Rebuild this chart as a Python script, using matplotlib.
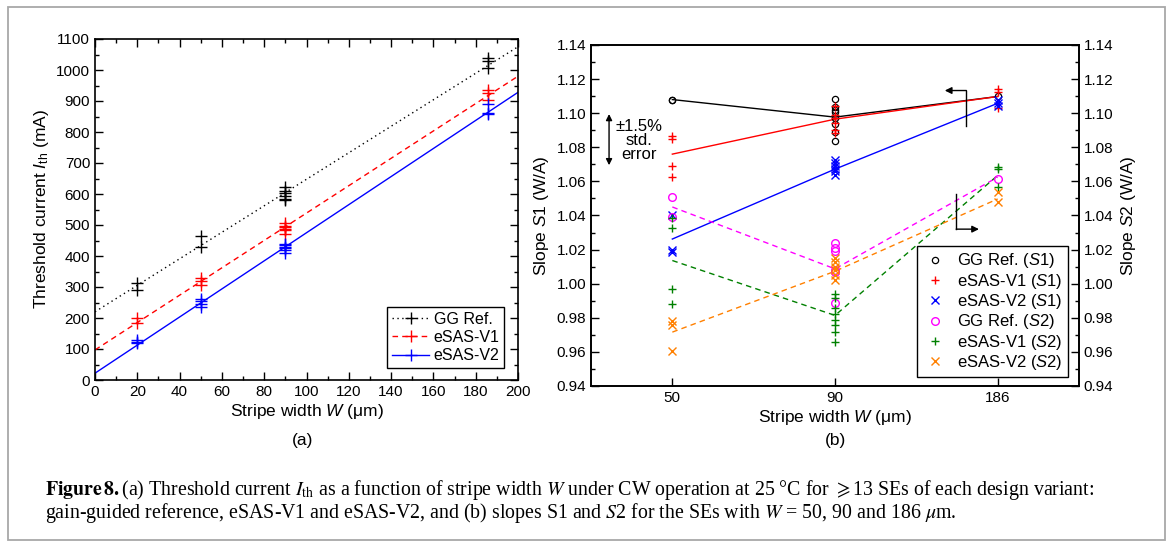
import matplotlib
matplotlib.use("Agg")
import matplotlib.pyplot as plt
import numpy as np
from matplotlib.lines import Line2D
from matplotlib.patches import Rectangle
from matplotlib.ticker import MultipleLocator, FormatStrFormatter

plt.rcParams['font.family'] = ['Liberation Sans', 'DejaVu Sans']
plt.rcParams['mathtext.fontset'] = 'custom'
plt.rcParams['mathtext.rm'] = 'Liberation Sans'
plt.rcParams['mathtext.it'] = 'Liberation Sans:italic'
plt.rcParams['mathtext.bf'] = 'Liberation Sans:bold'

# ---- (a) threshold current vs stripe width
gg_w = [20, 20, 50, 50, 90, 90, 90, 90, 90, 90, 186, 186, 186]
gg_ith = [290, 312, 430, 465, 580, 585, 595, 603, 610, 624, 1005, 1030, 1040]
v1_w = [20, 20, 50, 50, 50, 90, 90, 90, 90, 90, 90, 186, 186, 186]
v1_ith = [183, 199, 306, 320, 330, 470, 483, 487, 492, 498, 505, 903, 925, 935]
v2_w = [20, 20, 20, 50, 50, 50, 50, 90, 90, 90, 90, 90, 90, 186, 186, 186]
v2_ith = [118, 124, 128, 236, 245, 255, 262, 410, 418, 425, 430, 435, 440, 858, 862, 890]

fit_names = ['GG Ref.', 'eSAS-V1', 'eSAS-V2']
fit_icpt = [220, 97, 22]
fit_slope = [4.275, 4.415, 4.53]
fit_w = [0, 200]

# ---- (b) slopes S1 and S2
cats = ['50', '90', '186']

s1_gg_w = [50, 50, 90, 90, 90, 90, 90, 90, 90, 90, 186]
s1_gg = [1.1075, 1.108, 1.1086, 1.1035, 1.102, 1.1006, 1.097, 1.0938, 1.089, 1.0836, 1.110]
s1_gg_mean = [1.108, 1.0977, 1.1098]

s1_v1_w = [50, 50, 50, 50, 90, 90, 90, 90, 90, 90, 186, 186, 186]
s1_v1 = [1.0867, 1.0848, 1.0692, 1.0623, 1.104, 1.099, 1.097, 1.0945, 1.0899, 1.0883, 1.114, 1.1127, 1.103]
s1_v1_mean = [1.076, 1.0965, 1.1098]

s1_v2_w = [50, 50, 50, 90, 90, 90, 90, 90, 90, 186, 186, 186]
s1_v2 = [1.040, 1.020, 1.0184, 1.0727, 1.071, 1.069, 1.0675, 1.066, 1.064, 1.1078, 1.106, 1.1043]
s1_v2_mean = [1.0262, 1.0672, 1.1058]

s2_gg_w = [50, 50, 90, 90, 90, 90, 90, 90, 186]
s2_gg = [1.0508, 1.039, 1.024, 1.021, 1.019, 1.008, 1.0067, 0.9884, 1.0616]
s2_gg_mean = [1.045, 1.0087, 1.0625]

s2_v1_w = [50, 50, 50, 50, 90, 90, 90, 90, 90, 90, 90, 90, 186, 186, 186]
s2_v1 = [1.0385, 1.0325, 0.9966, 0.9882, 0.9939, 0.9917, 0.986, 0.982, 0.9786, 0.976, 0.9716, 0.9658,
         1.0684, 1.0672, 1.0565]
s2_v1_mean = [1.0136, 0.9814, 1.0635]

s2_v2_w = [50, 50, 50, 90, 90, 90, 90, 90, 90, 186, 186]
s2_v2 = [0.9784, 0.976, 0.9605, 1.015, 1.0125, 1.01, 1.008, 1.005, 1.002, 1.0536, 1.0479]
s2_v2_mean = [0.9716, 1.0073, 1.0497]


def pos(ws):
    return [cats.index(str(w)) for w in ws]


fig = plt.figure(figsize=(11.68, 5.46), dpi=100)

# outer frame of the figure box
fig.patches.append(Rectangle((8 / 1168, 6 / 546), 1157 / 1168, 533 / 546, transform=fig.transFigure,
                             fill=False, ec='#a8a8a8', lw=1.3))

# ---------------- panel (a)
ax = fig.add_axes([95 / 1168, 166 / 546, 423 / 1168, 341 / 546])
cols = ['black', 'red', 'blue']
styles = [(0, (1, 2.5)), (0, (4, 3)), '-']
pts = [(gg_w, gg_ith), (v1_w, v1_ith), (v2_w, v2_ith)]
handles = []
for i in range(3):
    fw = np.array(fit_w)
    ax.plot(fw, fit_icpt[i] + fit_slope[i] * fw, color=cols[i], ls=styles[i], lw=1.0)
    ax.plot(pts[i][0], pts[i][1], ls='none', marker='+', ms=9, mew=1.0, color=cols[i])
    handles.append(Line2D([], [], color=cols[i], ls=styles[i], lw=1.0, marker='+', ms=9, mew=1.0))

ax.set_xlim(0, 200)
ax.set_ylim(0, 1100)
ax.xaxis.set_major_locator(MultipleLocator(20))
ax.xaxis.set_minor_locator(MultipleLocator(10))
ax.yaxis.set_major_locator(MultipleLocator(100))
ax.yaxis.set_minor_locator(MultipleLocator(50))
ax.tick_params(which='both', direction='in', top=True, right=True, labelsize=11, width=1.0)
ax.tick_params(which='major', length=6)
ax.tick_params(which='minor', length=3)
for s in ax.spines.values():
    s.set_linewidth(1.2)
ax.set_xlabel('Stripe width $W$ (μm)', fontsize=12.5, labelpad=2)
ax.set_ylabel('Threshold current $I_{\\mathrm{th}}$ (mA)', fontsize=12.5, labelpad=4)
leg = ax.legend(handles, fit_names, loc='lower right', bbox_to_anchor=(0.968, 0.035), fontsize=11.5,
                fancybox=False, edgecolor='black', framealpha=1, handlelength=2.3, handletextpad=0.3,
                labelspacing=0.2, borderpad=0.3, borderaxespad=0)
leg.get_frame().set_linewidth(1.0)

# ---------------- panel (b)
bx = fig.add_axes([591 / 1168, 160 / 546, 488 / 1168, 341 / 546])
bx2 = bx.twinx()
x3 = np.arange(3)

bx.plot(x3, s1_gg_mean, color='black', lw=1.0)
bx.plot(x3, s1_v1_mean, color='red', lw=1.0)
bx.plot(x3, s1_v2_mean, color='blue', lw=1.0)
bx.plot(x3, s2_gg_mean, color='#ff00ff', lw=1.0, ls=(0, (4, 3)))
bx.plot(x3, s2_v1_mean, color='#008000', lw=1.0, ls=(0, (4, 3)))
bx.plot(x3, s2_v2_mean, color='#ff8000', lw=1.0, ls=(0, (4, 3)))

bx.plot(pos(s1_gg_w), s1_gg, ls='none', marker='o', ms=4.5, mfc='none', mec='black', mew=0.9,
        label='GG Ref. ($\\mathit{S1}$)')
bx.plot(pos(s1_v1_w), s1_v1, ls='none', marker='+', ms=6, mew=1.0, color='red',
        label='eSAS-V1 ($\\mathit{S1}$)')
bx.plot(pos(s1_v2_w), s1_v2, ls='none', marker='x', ms=5.5, mew=1.0, color='blue',
        label='eSAS-V2 ($\\mathit{S1}$)')
bx.plot(pos(s2_gg_w), s2_gg, ls='none', marker='o', ms=5.5, mfc='none', mec='#ff00ff', mew=1.0,
        label='GG Ref. ($\\mathit{S2}$)')
bx.plot(pos(s2_v1_w), s2_v1, ls='none', marker='+', ms=6, mew=1.0, color='#008000',
        label='eSAS-V1 ($\\mathit{S2}$)')
bx.plot(pos(s2_v2_w), s2_v2, ls='none', marker='x', ms=6, mew=1.0, color='#ff8000',
        label='eSAS-V2 ($\\mathit{S2}$)')

for a in (bx, bx2):
    a.set_ylim(0.94, 1.14)
    a.yaxis.set_major_locator(MultipleLocator(0.02))
    a.yaxis.set_minor_locator(MultipleLocator(0.01))
    a.yaxis.set_major_formatter(FormatStrFormatter('%.2f'))
    a.tick_params(which='both', direction='in', labelsize=11, width=1.0)
    a.tick_params(which='major', length=6)
    a.tick_params(which='minor', length=3)
    for s in a.spines.values():
        s.set_linewidth(1.2)
bx.set_xlim(-0.5, 2.5)
bx.set_xticks(x3)
bx.set_xticklabels(cats)
bx.set_xlabel('Stripe width $W$ (μm)', fontsize=12.5, labelpad=2)
bx.set_ylabel('Slope $\\mathit{S1}$ (W/A)', fontsize=12.5, labelpad=4)
bx2.set_ylabel('Slope $\\mathit{S2}$ (W/A)', fontsize=12.5, labelpad=4)

leg2 = bx.legend(loc='lower right', bbox_to_anchor=(0.977, 0.026), fontsize=12, fancybox=False,
                 edgecolor='black', framealpha=1, handlelength=1.5, handletextpad=0.6,
                 labelspacing=0.08, borderpad=0.3, borderaxespad=0)
leg2.get_frame().set_linewidth(1.0)

# std. error indicator and axis-pointing brackets
bx.annotate('', xy=(-0.389, 1.0995), xytext=(-0.389, 1.0695),
            arrowprops=dict(arrowstyle='<|-|>', color='black', lw=1.0, mutation_scale=9,
                            shrinkA=0, shrinkB=0))
bx.text(-0.205, 1.0838, '±1.5%\nstd.\nerror', ha='center', va='center', fontsize=12, linespacing=0.92)

bx.plot([1.808, 1.808], [1.0925, 1.1133], color='black', lw=1.0)
bx.annotate('', xy=(1.675, 1.1133), xytext=(1.808, 1.1133),
            arrowprops=dict(arrowstyle='-|>', color='black', lw=1.0, mutation_scale=10,
                            shrinkA=0, shrinkB=0))
bx.plot([1.745, 1.745], [1.032, 1.0524], color='black', lw=1.0)
bx.annotate('', xy=(1.885, 1.032), xytext=(1.745, 1.032),
            arrowprops=dict(arrowstyle='-|>', color='black', lw=1.0, mutation_scale=10,
                            shrinkA=0, shrinkB=0))

# panel letters
fig.text(303 / 1168, 1 - 440 / 546, '(a)', ha='center', va='center', fontsize=12.5)
fig.text(835 / 1168, 1 - 440 / 546, '(b)', ha='center', va='center', fontsize=12.5)

# caption
cap1 = ('$\\mathbf{Figure\\,8.}$(a) Threshold current $I_{\\mathrm{th}}$ as a function of stripe width $W$'
        ' under CW operation at 25 °C for $\\geqslant$13 SEs of each design variant:')
cap2 = ('gain-guided reference, eSAS-V1 and eSAS-V2, and (b) slopes S1 and $S$2 for the SEs with '
        '$W$ = 50, 90 and 186 $\\mu$m.')
for k, c in enumerate([cap1, cap2]):
    t = fig.text(45 / 1168, 1 - (490 + 23 * k) / 546, c, ha='left', va='center', fontsize=14.3,
                 family=['Liberation Serif', 'DejaVu Serif'])
    t.set_math_fontfamily('stix')

fig.savefig('out.png', dpi=100)
